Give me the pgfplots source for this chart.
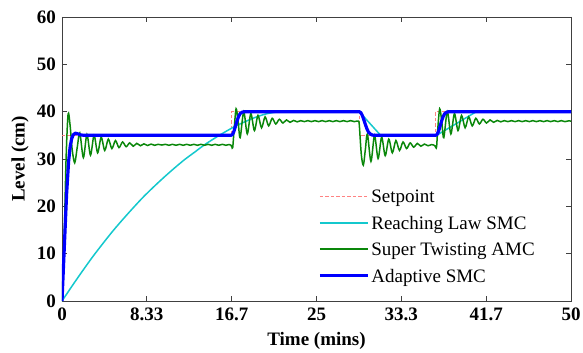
\documentclass[border=0pt]{standalone}
\usepackage{fontspec}
\setmainfont{Liberation Serif}
\usepackage{pgfplots}
\pgfplotsset{compat=1.18}
\definecolor{spcol}{RGB}{255,130,130}
\definecolor{cycol}{RGB}{20,200,205}
\definecolor{grcol}{RGB}{10,135,10}
\definecolor{blcol}{RGB}{0,0,255}
\begin{document}
\begin{tikzpicture}
\begin{axis}[
  scale only axis,
  width=509pt, height=284pt,
  xmin=0, xmax=50, ymin=0, ymax=60,
  xtick={0,8.333,16.667,25,33.333,41.667,50},
  xticklabels={0,8.33,16.7,25,33.3,41.7,50},
  ytick={0,10,20,30,40,50,60},
  /pgf/number format/assume math mode=true,
  tick label style={font=\bfseries\fontsize{19}{19}\selectfont},
  x tick label style={yshift=-3pt},
  y tick label style={xshift=-2.5pt},
  tick align=inside,
  major tick length=5pt,
  axis line style={black!75, line width=0.8pt},
  every tick/.style={black!75, line width=0.8pt},
  xlabel={Time (mins)},
  ylabel={Level (cm)},
  label style={font=\bfseries\fontsize{19}{21}\selectfont},
  xlabel style={at={(axis description cs:0.5,-0.141)}, anchor=center},
  ylabel style={at={(axis description cs:-0.0825,0.5)}, anchor=center, rotate=0},
  legend style={draw=none, fill=none, at={(0.497,0.405)}, anchor=north west,
    font=\fontsize{19}{21}\selectfont, row sep=8pt,
    /tikz/every even column/.append style={column sep=3pt}},
  legend cell align=left,
  legend image code/.code={\draw[mark repeat=2,mark phase=2,#1] plot coordinates {(0pt,0.5pt) (24pt,0.5pt) (48pt,0.5pt)};},
]
% Setpoint
\addplot[color=spcol, line width=0.9pt, dash pattern=on 3.5pt off 2pt,
  legend image post style={line width=1.1pt}] coordinates {
(0,35) (16.67,35) (16.67,40) (29.17,40) (29.17,35) (36.67,35) (36.67,40) (50,40)};
\addlegendentry{Setpoint}
% Reaching law SMC
\addplot[color=cycol, line width=1.5pt, smooth,
  legend image post style={line width=2pt}] coordinates {
(0,0) (1,3.2) (2,6.3) (3,9.3) (4,12.1) (5,14.8) (6,17.3) (7,19.7) (8,22.0) (9,24.1)
(10,26.1) (11,28.0) (12,29.8) (13,31.4) (14,33.0) (15,34.4) (16,35.7) (17,36.9)
(18,37.9) (19,38.8) (20,39.5) (21,39.9) (21.7,40)};
\addlegendentry{Reaching Law SMC}
\addplot[color=cycol, line width=1.5pt, forget plot] coordinates {
(21.7,40) (29.2,40) (31.3,35) (36.8,35) (40.7,40) (50,40)};
% Super twisting
\addplot[color=grcol, line width=1.5pt, smooth, tension=0.5,
  legend image post style={line width=2pt}] coordinates {
(0,0) (0.2,12) (0.4,30) (0.6,39.5) (0.8,37) (1.0,32) (1.25,29.2) (1.5,32.5)
(1.75,35.5) (2.1,30.3) (2.45,35.2) (2.8,30.8) (3.15,35.0) (3.5,31.3) (3.85,34.6)
(4.2,31.8) (4.55,34.2) (4.9,32.2) (5.25,33.9) (5.6,32.4) (5.95,33.6) (6.3,32.6)
(6.65,33.4) (7.0,32.7) (7.35,33.3) (7.7,32.8) (8.05,33.2) (8.4,32.85) (8.75,33.15)
(9.1,32.9) (9.45,33.1) (9.8,32.95) (10.15,33.1)
(10.5,32.9) (10.85,33.1) (11.2,32.9) (11.55,33.1) (11.9,32.9) (12.25,33.1)
(12.6,32.9) (12.95,33.1) (13.3,32.9) (13.65,33.1) (14.0,32.9) (14.35,33.1)
(14.7,32.9) (15.05,33.1) (15.4,32.9) (15.75,33.1) (16.1,32.9) (16.4,33.05)
(16.58,32.95) (16.68,32.6) (16.77,32.4) (16.9,36) (17.1,40.6) (17.3,38) (17.5,34.5) (17.85,40.0)
(18.2,35.3) (18.55,39.6) (18.9,36.0) (19.25,39.2) (19.6,36.6) (19.95,38.9)
(20.3,37.0) (20.65,38.6) (21.0,37.4) (21.35,38.4) (21.7,37.6) (22.05,38.25)
(22.4,37.75) (22.75,38.15) (23.1,37.85) (23.45,38.1) (23.8,37.9) (24.15,38.1)
(24.5,37.9) (24.85,38.1) (25.2,37.9) (25.55,38.1) (25.9,37.9) (26.25,38.1)
(26.6,37.9) (26.95,38.1) (27.3,37.9) (27.65,38.1) (28.0,37.9) (28.35,38.1)
(28.7,37.9) (28.95,38.0) (29.1,38)
(29.2,37.3) (29.4,31) (29.6,28.7) (29.8,32) (30.0,35.3) (30.35,29.5) (30.7,35.0)
(31.05,30.1) (31.4,34.6) (31.75,30.7) (32.1,34.2) (32.45,31.3) (32.8,33.9)
(33.15,31.8) (33.5,33.6) (33.85,32.2) (34.2,33.4) (34.55,32.5) (34.9,33.3)
(35.25,32.7) (35.6,33.15) (35.95,32.8) (36.3,33.05) (36.5,32.95)
(36.63,32.8) (36.72,32.4) (36.8,32.6) (36.9,36) (37.1,40.6) (37.3,38) (37.5,34.5) (37.85,40.0)
(38.2,35.3) (38.55,39.6) (38.9,36.0) (39.25,39.2) (39.6,36.6) (39.95,38.9)
(40.3,37.0) (40.65,38.6) (41.0,37.4) (41.35,38.4) (41.7,37.6) (42.05,38.25)
(42.4,37.75) (42.75,38.15) (43.1,37.85) (43.45,38.1) (43.8,37.9) (44.15,38.1)
(44.5,37.9) (44.85,38.1) (45.2,37.9) (45.55,38.1) (45.9,37.9) (46.25,38.1)
(46.6,37.9) (46.95,38.1) (47.3,37.9) (47.65,38.1) (48.0,37.9) (48.35,38.1)
(48.7,37.9) (49.05,38.1) (49.4,37.9) (49.75,38.05) (50,38)};
\addlegendentry{Super Twisting AMC}
% Adaptive SMC
\addplot[color=blcol, line width=3.2pt, line join=round] coordinates {
(0,0) (0.2,10) (0.45,22.5) (0.65,29.5) (0.8,32.6) (0.95,34.3) (1.1,35.1) (1.3,35.45)
(1.5,35.35) (1.8,35.1) (2.2,35) (16.6,35) (16.75,35.2) (16.9,35.9) (17.05,37.0)
(17.2,38.1) (17.35,39.0) (17.5,39.6) (17.7,39.9) (17.95,40) (29.2,40) (29.35,39.8)
(29.5,39.2) (29.65,38.3) (29.8,37.3) (29.95,36.4) (30.1,35.7) (30.3,35.25)
(30.5,35.05) (30.7,35) (36.7,35) (36.85,35.2) (37.0,35.9) (37.15,37.0) (37.3,38.1)
(37.45,39.0) (37.6,39.6) (37.8,39.9) (38.05,40) (50,40)};
\addlegendentry{Adaptive SMC}
\end{axis}
\pgfresetboundingbox
\useasboundingbox ([xshift=-62pt,yshift=-52pt]current axis.south west) rectangle ([xshift=12pt,yshift=17pt]current axis.north east);
\end{tikzpicture}
\end{document}
